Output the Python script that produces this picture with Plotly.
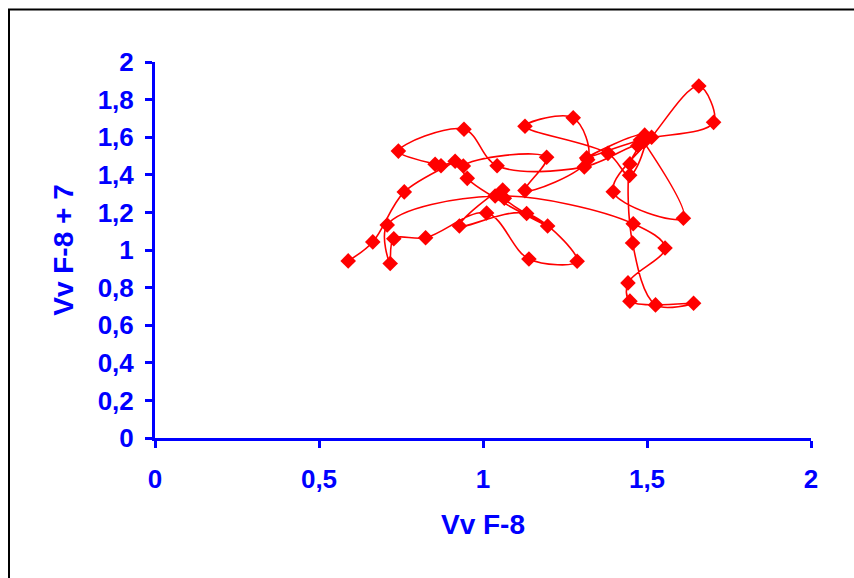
import plotly.graph_objects as go

# Lag plot: x = Vv F-8 at week t, y = Vv F-8 at week t+7 (points in time order)
x_values = [0.589, 0.664, 0.760, 0.915, 0.872, 0.854, 0.742, 0.942, 1.043, 1.309,
            1.472, 1.448, 1.456, 1.526, 1.642, 1.448, 1.442, 1.555, 1.458, 1.037,
            0.708, 0.717, 0.728, 0.825, 1.011, 1.140, 1.287, 1.133, 0.928, 1.060,
            1.065, 1.197, 0.952, 0.940, 1.194, 1.128, 1.319, 1.275, 1.128, 1.381,
            1.447, 1.493, 1.316, 1.480, 1.703, 1.658, 1.514, 1.397, 1.611, 1.490]
y_values = [0.942, 1.043, 1.309, 1.472, 1.448, 1.456, 1.526, 1.642, 1.448, 1.442,
            1.555, 1.458, 1.037, 0.708, 0.717, 0.728, 0.825, 1.011, 1.140, 1.287,
            1.133, 0.928, 1.060, 1.065, 1.197, 0.952, 0.940, 1.194, 1.128, 1.319,
            1.275, 1.128, 1.381, 1.447, 1.493, 1.316, 1.480, 1.703, 1.658, 1.514,
            1.397, 1.611, 1.490, 1.585, 1.679, 1.872, 1.600, 1.310, 1.169, 1.575]

x_ticks = [0, 0.5, 1, 1.5, 2]
y_ticks = [0, 0.2, 0.4, 0.6, 0.8, 1, 1.2, 1.4, 1.6, 1.8, 2]

BLUE = "#0000FF"
RED = "#FF0000"
FONT = "Liberation Sans, Arial, sans-serif"

W, H = 854, 578
L, R, T, B = 155, 43, 62, 140

fig = go.Figure()
fig.add_trace(go.Scatter(
    x=x_values, y=y_values, mode="lines+markers",
    line=dict(color=RED, width=1.6, shape="spline", smoothing=1.0),
    marker=dict(symbol="diamond", size=12, color=RED),
    showlegend=False, cliponaxis=False,
))

def px_to_paper_x(px):
    return (px - L) / (W - L - R)

def px_to_paper_y(py):
    return (H - B - py) / (H - T - B)

fig.update_layout(
    width=W, height=H,
    margin=dict(l=L, r=R, t=T, b=B),
    paper_bgcolor="white", plot_bgcolor="white",
    separators=",.",
    font=dict(family=FONT, color=BLUE),
    xaxis=dict(
        range=[0, 2], tickvals=x_ticks, showgrid=False, zeroline=False,
        showline=True, linecolor=BLUE, linewidth=3,
        ticks="outside", ticklen=7, tickwidth=3, tickcolor=BLUE,
        tickfont=dict(family=FONT, size=26, color=BLUE, weight="bold"),
        ticklabelstandoff=9,
        title=dict(text="Vv F-8", font=dict(family=FONT, size=28, color=BLUE, weight="bold"),
                   standoff=22),
    ),
    yaxis=dict(
        range=[0, 2], tickvals=y_ticks, showgrid=False, zeroline=False,
        showline=True, linecolor=BLUE, linewidth=3,
        ticks="outside", ticklen=7, tickwidth=3, tickcolor=BLUE,
        tickfont=dict(family=FONT, size=26, color=BLUE, weight="bold"),
        ticklabelstandoff=6,
        title=dict(text="Vv F-8 + 7", font=dict(family=FONT, size=28, color=BLUE, weight="bold"),
                   standoff=16),
    ),
    shapes=[dict(
        type="rect", xref="paper", yref="paper",
        x0=px_to_paper_x(9), x1=px_to_paper_x(W + 20),
        y0=px_to_paper_y(H + 20), y1=px_to_paper_y(9.5),
        line=dict(color="black", width=2), fillcolor="rgba(0,0,0,0)", layer="below",
    )],
)

fig.write_html("out.html")
